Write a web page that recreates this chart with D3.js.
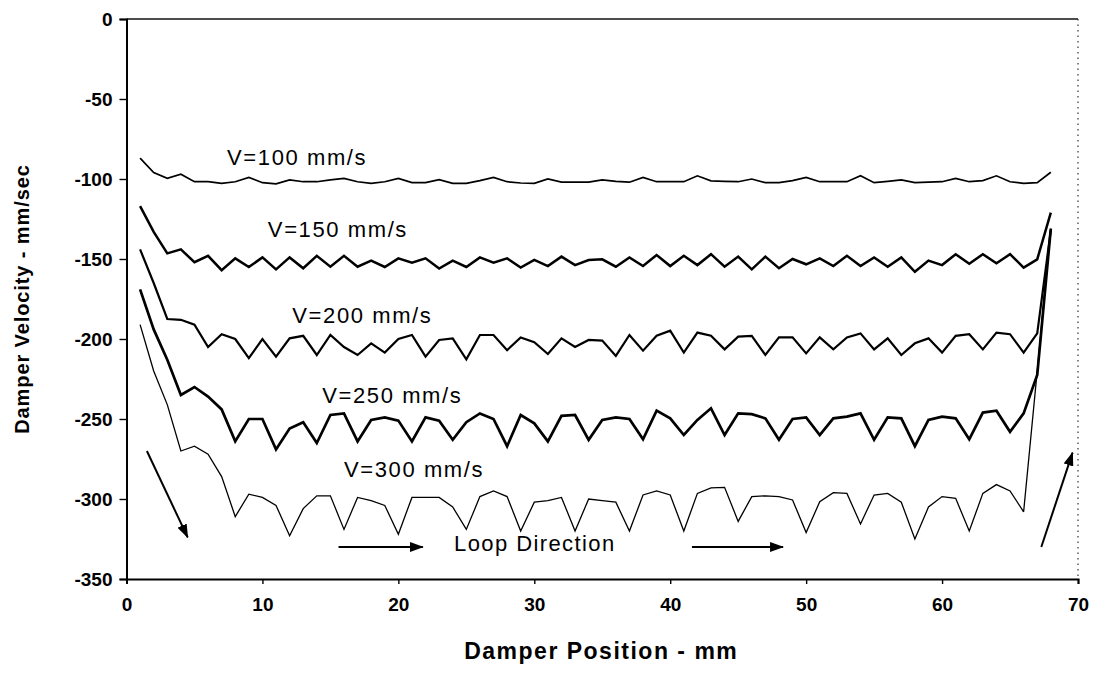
<!DOCTYPE html>
<html>
<head>
<meta charset="utf-8">
<script src="https://cdn.jsdelivr.net/npm/d3@7"></script>
<style>
  html, body { margin: 0; padding: 0; background: #fff; }
  svg { display: block; font-family: "Liberation Sans", Arial, sans-serif; }
</style>
</head>
<body>
<svg id="chart" width="1098" height="677"></svg>
<script>
// ---------- data ----------
const positions = [1,2,3,4,5,6,7,8,9,10,11,12,13,14,15,16,17,18,19,20,
  21,22,23,24,25,26,27,28,29,30,31,32,33,34,35,36,37,38,39,40,
  41,42,43,44,45,46,47,48,49,50,51,52,53,54,55,56,57,58,59,60,
  61,62,63,64,65,66,67,68];

const v100 = [-87,-96,-99.6,-97,-101.7,-101.7,-102.7,-101.7,-99,-102.3,
  -103,-100.6,-101.7,-101.7,-100.6,-99.6,-101.7,-102.7,-101.7,-99.6,
  -102.3,-102.3,-100.4,-102.7,-102.7,-101,-99,-101.7,-102.5,-102.7,
  -100,-102,-102,-102,-100.6,-101.5,-102,-99,-101.7,-101.7,
  -101.7,-98,-101.2,-101.5,-101.7,-100,-102.3,-102.3,-101,-99,
  -101.7,-101.7,-101.7,-98,-102.3,-101.5,-100.6,-102.3,-102,-101.7,
  -99.6,-101.7,-101,-98,-101.7,-102.7,-102.3,-95.8];

const v150 = [-117,-133,-146.5,-144,-152,-148,-157,-149.6,-155,-149,
  -156.5,-149,-155.8,-148,-154.8,-148,-154.8,-151,-155,-149.6,
  -152.3,-149.6,-156,-151,-155,-149,-152.3,-149.6,-155.4,-150.6,
  -154.4,-148.5,-153.8,-150.6,-150.2,-154.8,-149,-154.4,-147.5,-154.4,
  -148,-153.8,-147,-154.8,-148.5,-156.5,-148.5,-155.8,-150,-153.3,
  -149.6,-154.4,-148,-154.4,-149,-154.8,-149,-158,-151,-153.8,
  -147,-153,-147,-152.7,-147,-155.4,-150.2,-121];

const v200 = [-144,-165,-187.5,-188,-191,-205,-197,-200,-212,-200,
  -211,-199.6,-198,-210,-197.5,-205,-210,-202.7,-208.5,-200,
  -197.5,-211,-200.6,-199.6,-212.7,-197.5,-197.5,-207,-199,-202,
  -209.4,-199.6,-205,-200.6,-201,-210.6,-197.5,-207.3,-198,-194.8,
  -208.5,-196,-198,-206.5,-198.5,-198,-210,-199,-199,-209,
  -199,-206.5,-199,-196.5,-206.5,-199.6,-210,-202.7,-199.6,-208.5,
  -198,-197,-206.5,-196,-197,-208.5,-196.5,-132];

const v250 = [-169,-194,-213,-235,-230,-236,-244,-264,-250,-250,
  -269,-256,-252,-265,-247.5,-246.5,-264,-250.6,-249,-251,
  -264,-249,-251,-263,-252,-246.5,-250,-267,-247.5,-252.7,
  -264,-248,-247.5,-263,-250.6,-249,-250,-262.7,-244.8,-249.6,
  -260,-250.6,-243.3,-260,-246.5,-247,-249.6,-263,-250,-249,
  -260,-249.6,-248.5,-246.5,-263,-249,-249.6,-267,-250.6,-248.5,
  -249.6,-262.7,-246,-244.8,-258,-246.5,-222.5,-131];

const v300 = [-191,-220,-241,-270,-267,-272,-286,-311,-297,-299,
  -304,-323,-306,-298,-298,-319,-299,-301,-304,-322,
  -299,-299,-299,-305,-319,-298.5,-295,-298.5,-320,-302,
  -301,-299,-320,-300,-301,-302,-320,-297.5,-295,-297.5,
  -320,-296.5,-293,-292.7,-314,-298.5,-298,-298.5,-300.6,-321,
  -301.7,-296,-296.5,-315.6,-297.5,-296.5,-302,-325,-305,-298.5,
  -299.6,-320,-296.5,-291,-295,-308,-220,-131];

const seriesNames = ["V=100 mm/s","V=150 mm/s","V=200 mm/s","V=250 mm/s","V=300 mm/s"];
const seriesValues = [v100, v150, v200, v250, v300];
// label anchor (data coords) for each series label
const labelX = [7.4, 10.4, 12.2, 14.4, 16.0];
const labelY = [-91, -136, -190, -240, -286];

const xTicks = [0,10,20,30,40,50,60,70];
const yTicks = [0,-50,-100,-150,-200,-250,-300,-350];

// annotation arrows in data coordinates [x1,y1,x2,y2]
const arrows = [
  [1.5,-270, 4.5,-324],
  [15.6,-330, 21.8,-330],
  [41.6,-330, 48.3,-330],
  [67.3,-330, 69.6,-271]
];
const loopText = "Loop Direction";
const loopPos = [24.1, -332.5];

// ---------- drawing ----------
const svg = d3.select("#chart");
const x = d3.scaleLinear().domain([0,70]).range([126.5,1078]);
const y = d3.scaleLinear().domain([-350,0]).range([579,19]);

const widths = [1.7, 2.5, 2.2, 2.7, 1.3];
const fmt = d => String(d);   // plain hyphen-minus as in the original

// frame: top solid, right dotted
svg.append("line").attr("x1", x(0)).attr("x2", x(70)).attr("y1", y(0)).attr("y2", y(0))
  .attr("stroke", "#111").attr("stroke-width", 1.6);
svg.append("line").attr("x1", x(70)).attr("x2", x(70)).attr("y1", y(0)).attr("y2", y(-350))
  .attr("stroke", "#333").attr("stroke-width", 1.2).attr("stroke-dasharray", "1.5,4");

// axes
const gx = svg.append("g").attr("transform", `translate(0,${y(-350)})`)
  .call(d3.axisBottom(x).tickValues(xTicks).tickSize(5).tickPadding(14).tickFormat(fmt));
const gy = svg.append("g").attr("transform", `translate(${x(0)},0)`)
  .call(d3.axisLeft(y).tickValues(yTicks).tickSize(7).tickPadding(7).tickFormat(fmt));

[gx, gy].forEach(g => {
  g.select(".domain").attr("stroke", "#000").attr("stroke-width", 2);
  g.selectAll(".tick line").attr("stroke", "#000").attr("stroke-width", 1.4);
  g.selectAll(".tick text").attr("fill", "#000").attr("font-size", 19).attr("font-weight", "bold")
    .attr("font-family", "'Liberation Sans', Arial, sans-serif");
});
gy.selectAll(".tick text").attr("dy", "0.35em");

// axis titles
svg.append("text").attr("x", (x(0)+x(70))/2 - 1).attr("y", 659)
  .attr("text-anchor", "middle").attr("font-size", 23).attr("font-weight", "bold")
  .attr("letter-spacing", 1.5).text("Damper Position - mm");
svg.append("text").attr("transform", `translate(29,${(y(0)+y(-350))/2}) rotate(-90)`)
  .attr("text-anchor", "middle").attr("font-size", 20).attr("font-weight", "bold")
  .attr("letter-spacing", 0.9).text("Damper Velocity - mm/sec");

// lines
const line = d3.line().x((d,i) => x(positions[i])).y(d => y(d));
seriesValues.forEach((vals, k) => {
  svg.append("path").datum(vals).attr("d", line)
    .attr("fill", "none").attr("stroke", "#000").attr("stroke-width", widths[k])
    .attr("stroke-linejoin", "miter").attr("stroke-miterlimit", 3);
});

// series labels
seriesNames.forEach((name, k) => {
  svg.append("text").attr("x", x(labelX[k])).attr("y", y(labelY[k]))
    .attr("font-size", 22).attr("letter-spacing", 1.6).attr("fill", "#000").text(name);
});

// arrows
const defs = svg.append("defs");
defs.append("marker").attr("id", "ah").attr("viewBox", "0 0 14 10")
  .attr("refX", 13).attr("refY", 5).attr("markerWidth", 14).attr("markerHeight", 10)
  .attr("markerUnits", "userSpaceOnUse").attr("orient", "auto")
  .append("path").attr("d", "M0,0 L14,5 L0,10 Z").attr("fill", "#000");
arrows.forEach(a => {
  svg.append("line").attr("x1", x(a[0])).attr("y1", y(a[1])).attr("x2", x(a[2])).attr("y2", y(a[3]))
    .attr("stroke", "#000").attr("stroke-width", 2).attr("marker-end", "url(#ah)");
});

svg.append("text").attr("x", x(loopPos[0])).attr("y", y(loopPos[1]))
  .attr("font-size", 22).attr("letter-spacing", 1.4).attr("fill", "#000").text(loopText);
</script>
</body>
</html>
